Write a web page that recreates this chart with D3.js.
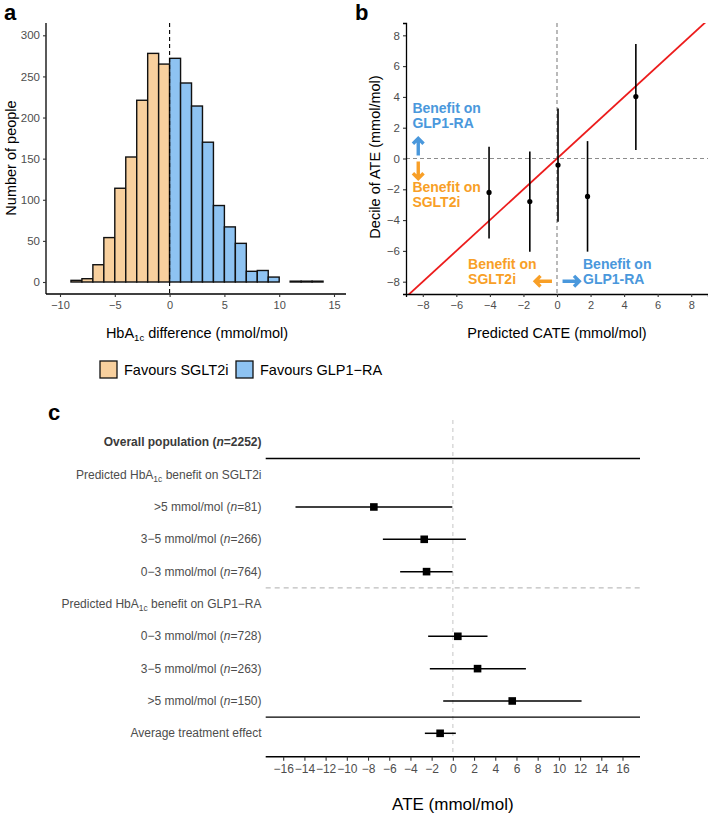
<!DOCTYPE html>
<html>
<head>
<meta charset="utf-8">
<script src="https://cdn.jsdelivr.net/npm/d3@7"></script>
<style>
  body { margin: 0; background: #fff; }
  svg { display: block; font-family: "Liberation Sans", Arial, sans-serif; }
</style>
</head>
<body>
<svg id="chart" width="708" height="814"></svg>
<script>
// ---- panel a: histogram of predicted HbA1c difference ----
const binLo  = [-10, -9, -8, -7, -6, -5, -4, -3, -2, -1, 0, 1, 2, 3, 4, 5, 6, 7, 8, 9, 10, 11, 12, 13, 14];
const counts = [0, 2, 4, 21, 54, 114, 152, 221, 278, 265, 272, 242, 214, 170, 93, 67, 47, 13, 14, 6, 0, 1, 1, 1, 0];
const histTicksX = [-10, -5, 0, 5, 10, 15];
const histTicksY = [0, 50, 100, 150, 200, 250, 300];

// ---- panel b: decile calibration ----
const cate   = [-4.05, -1.62, 0.06, 1.82, 4.7];
const ate    = [-2.2, -2.8, -0.43, -2.46, 4.02];
const ateLo  = [-5.2, -6.05, -4.1, -6.05, 0.56];
const ateHi  = [0.76, 0.45, 3.24, 1.13, 7.44];
const calTicks = [-8, -6, -4, -2, 0, 2, 4, 6, 8];

// ---- panel c: forest plot ----
const rowLabels = ["overall", "hdrS", "s5", "s35", "s03", "hdrG", "g03", "g35", "g5", "ate"];
const estimate  = [null, null, -7.45, -2.7, -2.48, null, 0.47, 2.33, 5.6, -1.2];
const lower     = [null, null, -14.84, -6.6, -4.97, null, -2.33, -2.17, -0.91, -2.64];
const upper     = [null, null, -0.05, 1.23, -0.03, null, 3.27, 6.89, 12.14, 0.28];
const forestTicks = [-16, -14, -12, -10, -8, -6, -4, -2, 0, 2, 4, 6, 8, 10, 12, 14, 16];

const orangeFill = "#f8d09e", blueFill = "#8ec3f2";
const orangeText = "#f89f27", blueText = "#4a98dc";
const tickGrey = "#4d4d4d";

const svg = d3.select("#chart");

function panelLetter(x, y, t) {
    svg.append("text").attr("x", x).attr("y", y)
        .attr("font-size", 22).attr("font-weight", "bold").text(t);
}

// plain ggplot-ish axes: black line, short dark ticks, grey labels
function styleAxis(g, size) {
    g.select(".domain").attr("stroke", "#000").attr("stroke-width", 1.3);
    g.selectAll(".tick line").attr("stroke", "#333").attr("stroke-width", 1.1);
    g.selectAll(".tick text").attr("fill", tickGrey).attr("font-size", size)
        .attr("font-family", "Liberation Sans, Arial, sans-serif");
}

// ================= panel a =================
(function() {
    const left = 46, right = 346, top = 23, bottom = 294;
    const x = d3.scaleLinear().domain([-10, 15]).range([60, 334]);
    const y = d3.scaleLinear().domain([0, 300]).range([282, 35.3]);

    panelLetter(4, 20, "a");

    svg.append("g").selectAll("rect")
        .data(binLo.map((b, i) => ({lo: b, n: counts[i]})))
        .join("rect")
        .attr("x", d => x(d.lo))
        .attr("width", d => x(d.lo + 1) - x(d.lo))
        .attr("y", d => y(d.n))
        .attr("height", d => y(0) - y(d.n))
        .attr("fill", d => d.lo < 0 ? orangeFill : blueFill)
        .attr("stroke", "#111")
        .attr("stroke-width", 1.4);

    svg.append("line")
        .attr("x1", x(0)).attr("x2", x(0))
        .attr("y1", top).attr("y2", bottom)
        .attr("stroke", "#000").attr("stroke-width", 1.1)
        .attr("stroke-dasharray", "4,3");

    const xAxis = d3.axisBottom(x).tickValues(histTicksX).tickSize(3).tickPadding(4)
        .tickFormat(d => d < 0 ? "\u2212" + Math.abs(d) : d);
    const gx = svg.append("g").attr("transform", `translate(0,${bottom})`).call(xAxis);
    gx.select(".domain").attr("d", `M${left},0H${right}`);
    styleAxis(gx, 11);

    const yAxis = d3.axisLeft(y).tickValues(histTicksY).tickSize(3).tickPadding(3);
    const gy = svg.append("g").attr("transform", `translate(${left},0)`).call(yAxis);
    gy.select(".domain").attr("d", `M0,${top}V${bottom}`);
    styleAxis(gy, 11.5);

    svg.append("text")
        .attr("transform", `translate(16,158) rotate(-90)`)
        .attr("text-anchor", "middle").attr("font-size", 14.5)
        .text("Number of people");

    const xt = svg.append("text").attr("x", 197).attr("y", 338)
        .attr("text-anchor", "middle").attr("font-size", 14.5);
    xt.append("tspan").text("HbA");
    xt.append("tspan").attr("font-size", 9.5).attr("dy", 3).text("1c");
    xt.append("tspan").attr("dy", -3).text(" difference (mmol/mol)");

    // legend
    const leg = svg.append("g").attr("font-size", 14.5);
    [[100, orangeFill, "Favours SGLT2i"], [236, blueFill, "Favours GLP1\u2212RA"]].forEach(([lx, c, t]) => {
        leg.append("rect").attr("x", lx).attr("y", 361).attr("width", 17).attr("height", 17)
            .attr("fill", c).attr("stroke", "#111").attr("stroke-width", 1.3);
        leg.append("text").attr("x", lx + 24).attr("y", 375).text(t);
    });
})();

// ================= panel b =================
(function() {
    const left = 406, right = 708, top = 23, bottom = 294;
    const x = d3.scaleLinear().domain([-9, 9]).range([left, right]);
    const y = d3.scaleLinear().domain([-8.8, 8.8]).range([bottom, top]);

    panelLetter(355, 20, "b");

    svg.append("defs").append("clipPath").attr("id", "clipB")
        .append("rect").attr("x", left).attr("y", top)
        .attr("width", right - left).attr("height", bottom - top);

    const g = svg.append("g");
    g.append("line")
        .attr("x1", x(0)).attr("x2", x(0)).attr("y1", top).attr("y2", bottom)
        .attr("stroke", "#8c8c8c").attr("stroke-width", 1.2).attr("stroke-dasharray", "4,3");
    g.append("line")
        .attr("x1", left).attr("x2", right).attr("y1", y(0)).attr("y2", y(0))
        .attr("stroke", "#8c8c8c").attr("stroke-width", 1.2).attr("stroke-dasharray", "4,3");

    g.append("line").attr("clip-path", "url(#clipB)")
        .attr("x1", x(-9)).attr("y1", y(-9)).attr("x2", x(9)).attr("y2", y(9))
        .attr("stroke", "#ec1c1c").attr("stroke-width", 1.8);

    const pts = cate.map((c, i) => ({c, a: ate[i], lo: ateLo[i], hi: ateHi[i]}));
    g.append("g").selectAll("line").data(pts).join("line")
        .attr("x1", d => x(d.c)).attr("x2", d => x(d.c))
        .attr("y1", d => y(d.lo)).attr("y2", d => y(d.hi))
        .attr("stroke", "#000").attr("stroke-width", 1.6);
    g.append("g").selectAll("circle").data(pts).join("circle")
        .attr("cx", d => x(d.c)).attr("cy", d => y(d.a)).attr("r", 2.6).attr("fill", "#000");

    const fmt = d => d < 0 ? "\u2212" + Math.abs(d) : d;
    const gx = svg.append("g").attr("transform", `translate(0,${bottom})`)
        .call(d3.axisBottom(x).tickValues(calTicks).tickSize(3).tickPadding(4).tickFormat(fmt));
    styleAxis(gx, 11);
    const gy = svg.append("g").attr("transform", `translate(${left},0)`)
        .call(d3.axisLeft(y).tickValues(calTicks).tickSize(3).tickPadding(3).tickFormat(fmt));
    styleAxis(gy, 11.5);

    svg.append("text")
        .attr("transform", `translate(380,157) rotate(-90)`)
        .attr("text-anchor", "middle").attr("font-size", 14.5)
        .text("Decile of ATE (mmol/mol)");
    svg.append("text").attr("x", x(0)).attr("y", 338)
        .attr("text-anchor", "middle").attr("font-size", 14.5)
        .text("Predicted CATE (mmol/mol)");

    // annotations
    const ann = svg.append("g").attr("font-size", 14).attr("font-weight", "bold");
    function label(px, py, col, lines) {
        const t = ann.append("text").attr("x", px).attr("y", py).attr("fill", col);
        lines.forEach((l, i) => t.append("tspan").attr("x", px).attr("dy", i ? 15 : 0).text(l));
    }
    label(x(-8.62), y(2.95), blueText, ["Benefit on", "GLP1-RA"]);
    label(x(-8.62), y(-2.2), orangeText, ["Benefit on", "SGLT2i"]);
    label(x(-5.3), y(-7.2), orangeText, ["Benefit on", "SGLT2i"]);
    label(x(1.55), y(-7.2), blueText, ["Benefit on", "GLP1-RA"]);

    function arrow(x1, y1, x2, y2, col) {
        const ang = Math.atan2(y2 - y1, x2 - x1), h = 7.5;
        const a1 = ang + Math.PI * 0.75, a2 = ang - Math.PI * 0.75;
        ann.append("path")
            .attr("d", `M${x1},${y1}L${x2},${y2}M${x2 + h * Math.cos(a1)},${y2 + h * Math.sin(a1)}L${x2},${y2}L${x2 + h * Math.cos(a2)},${y2 + h * Math.sin(a2)}`)
            .attr("fill", "none").attr("stroke", col).attr("stroke-width", 3.4)
            .attr("stroke-linejoin", "miter");
    }
    arrow(x(-8.27), y(0.2), x(-8.27), y(1.3), blueText);
    arrow(x(-8.27), y(-0.2), x(-8.27), y(-1.3), orangeText);
    arrow(x(-0.3), y(-7.97), x(-1.3), y(-7.97), orangeText);
    arrow(x(0.33), y(-7.97), x(1.33), y(-7.97), blueText);
})();

// ================= panel c =================
(function() {
    const left = 265.7, right = 640, top = 420, axisY = 756.7;
    const x = d3.scaleLinear().domain([-17.65, 17.65]).range([left, right]);
    const y = d3.scalePoint().domain(rowLabels).range([442.3, 733.3]);
    const step = y.step();

    panelLetter(48, 420, "c");

    // row labels
    const lab = svg.append("g").attr("font-size", 12).attr("fill", tickGrey).attr("text-anchor", "end");
    const lx = 261.5;
    function row(key, parts, bold) {
        const t = lab.append("text").attr("x", lx).attr("y", y(key) + 4);
        if (bold) t.attr("font-weight", "bold").attr("fill", "#3a3a3a");
        parts.forEach(p => {
            const s = t.append("tspan").text(p.t);
            if (p.i) s.attr("font-style", "italic");
            if (p.sub) s.attr("font-size", 8.5).attr("dy", 3);
            if (p.up) s.attr("dy", -3);
        });
    }
    row("overall", [{t: "Overall population ("}, {t: "n", i: 1}, {t: "=2252)"}], true);
    row("hdrS", [{t: "Predicted HbA"}, {t: "1c", sub: 1}, {t: " benefit on SGLT2i", up: 1}]);
    row("s5", [{t: ">5 mmol/mol ("}, {t: "n", i: 1}, {t: "=81)"}]);
    row("s35", [{t: "3\u22125 mmol/mol ("}, {t: "n", i: 1}, {t: "=266)"}]);
    row("s03", [{t: "0\u22123 mmol/mol ("}, {t: "n", i: 1}, {t: "=764)"}]);
    row("hdrG", [{t: "Predicted HbA"}, {t: "1c", sub: 1}, {t: " benefit on GLP1\u2212RA", up: 1}]);
    row("g03", [{t: "0\u22123 mmol/mol ("}, {t: "n", i: 1}, {t: "=728)"}]);
    row("g35", [{t: "3\u22125 mmol/mol ("}, {t: "n", i: 1}, {t: "=263)"}]);
    row("g5", [{t: ">5 mmol/mol ("}, {t: "n", i: 1}, {t: "=150)"}]);
    row("ate", [{t: "Average treatment effect"}]);

    // zero reference
    svg.append("line")
        .attr("x1", x(0)).attr("x2", x(0)).attr("y1", top).attr("y2", axisY)
        .attr("stroke", "#cfcfcf").attr("stroke-width", 1.2).attr("stroke-dasharray", "4,4");

    // separators
    const sepY = k => y(k) + step / 2;
    [["overall", false], ["s03", true], ["g5", false]].forEach(([k, dashed]) => {
        const l = svg.append("line").attr("x1", left).attr("x2", right)
            .attr("y1", sepY(k)).attr("y2", sepY(k));
        if (dashed) l.attr("stroke", "#bdbdbd").attr("stroke-width", 1.3).attr("stroke-dasharray", "5,4");
        else l.attr("stroke", "#000").attr("stroke-width", 1.4);
    });

    const rows = rowLabels.map((k, i) => ({k, e: estimate[i], lo: lower[i], hi: upper[i]}))
        .filter(d => d.e !== null);
    svg.append("g").selectAll("line").data(rows).join("line")
        .attr("x1", d => x(d.lo)).attr("x2", d => x(d.hi))
        .attr("y1", d => y(d.k)).attr("y2", d => y(d.k))
        .attr("stroke", "#000").attr("stroke-width", 1.5);
    svg.append("g").selectAll("rect").data(rows).join("rect")
        .attr("x", d => x(d.e) - 3.8).attr("y", d => y(d.k) - 3.8)
        .attr("width", 7.6).attr("height", 7.6).attr("fill", "#000");

    const gx = svg.append("g").attr("transform", `translate(0,${axisY})`)
        .call(d3.axisBottom(x).tickValues(forestTicks).tickSize(4).tickPadding(4)
            .tickFormat(d => d < 0 ? "\u2212" + Math.abs(d) : d));
    gx.select(".domain").attr("d", `M${left},0H${right}`);
    styleAxis(gx, 12);
    gx.select(".domain").attr("stroke-width", 1.5);

    svg.append("text").attr("x", x(0)).attr("y", 810)
        .attr("text-anchor", "middle").attr("font-size", 17)
        .text("ATE (mmol/mol)");
})();
</script>
</body>
</html>
